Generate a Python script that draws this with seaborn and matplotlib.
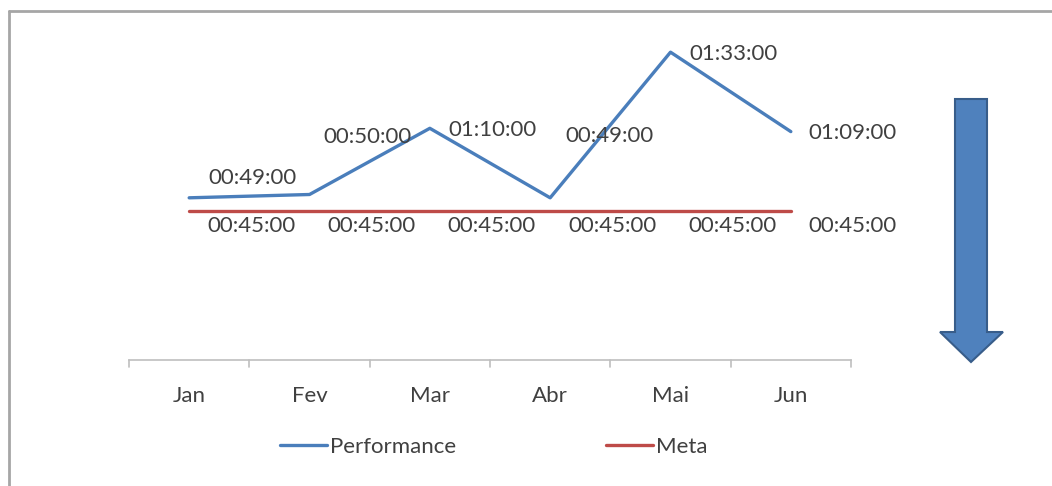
import matplotlib
matplotlib.use("Agg")
import matplotlib.pyplot as plt
from matplotlib.patches import Polygon
from matplotlib.lines import Line2D
import seaborn as sns
import pandas as pd

# Monthly durations, in minutes
months = ["Jan", "Fev", "Mar", "Abr", "Mai", "Jun"]
performance = [49, 50, 70, 49, 93, 69]
meta = [45, 45, 45, 45, 45, 45]


def hms(minutes):
    h, m = divmod(int(minutes), 60)
    return f"{h:02d}:{m:02d}:00"


sns.set_theme(style="white")
plt.rcParams["font.family"] = ["Lato", "DejaVu Sans"]

W, H = 1052, 486
fig = plt.figure(figsize=(W / 100, H / 100), dpi=100)
fig.patch.set_facecolor("white")


def fx(px):
    return px / W


def fy(py):
    return 1 - py / H


ax = fig.add_axes([fx(129), fy(360), fx(851) - fx(129), fy(29) - fy(360)])

blue = "#4A7EBB"
red = "#BE4B48"
text_c = "#404040"
fs = 16

df = pd.DataFrame({
    "Mês": months * 2,
    "Minutos": performance + meta,
    "Série": ["Performance"] * len(months) + ["Meta"] * len(months),
})

sns.lineplot(data=df, x="Mês", y="Minutos", hue="Série",
             palette={"Performance": blue, "Meta": red},
             sort=False, linewidth=2.4, legend=False, ax=ax)

ax.set_xlim(-0.5, len(months) - 0.5)
ax.set_ylim(0, 100)
ax.set_xlabel("")
ax.set_ylabel("")
ax.set_yticks([])
ax.set_xticks(range(len(months)))
ax.set_xticklabels(months, fontsize=fs, color=text_c)
ax.tick_params(axis="x", length=0, pad=19)
for s in ["top", "right", "left"]:
    ax.spines[s].set_visible(False)
ax.spines["bottom"].set_color("#BFBFBF")
ax.spines["bottom"].set_linewidth(1.2)
# tick marks between categories
for b in [i - 0.5 for i in range(len(months) + 1)]:
    ax.plot([b, b], [0, -2.0], color="#BFBFBF", lw=1.2, clip_on=False)

# data labels (pixel offsets from each point)
perf_offsets = [(63, 20), (58, 58), (63, -2), (59, 62), (63, -2), (62, -1)]
for i, (v, off) in enumerate(zip(performance, perf_offsets)):
    ax.annotate(hms(v), (i, v), xytext=off, textcoords="offset pixels",
                ha="center", va="center", fontsize=fs, color=text_c)
for i, v in enumerate(meta):
    ax.annotate(hms(v), (i, v), xytext=(62, -15), textcoords="offset pixels",
                ha="center", va="center", fontsize=fs, color=text_c)

# legend
handles = [Line2D([], [], color=blue, lw=2.4), Line2D([], [], color=red, lw=2.4)]
leg = fig.legend(handles, ["Performance", "Meta"], loc="center",
                 bbox_to_anchor=(fx(494), fy(447)), ncol=2, frameon=False,
                 fontsize=fs, handlelength=2.1, handletextpad=0.15,
                 columnspacing=6.75, labelcolor=text_c)

# downward arrow on the right
arrow_pts = [(955, 99), (987, 99), (987, 332), (1003, 332), (971, 362),
             (940, 332), (955, 332)]
fig.patches.append(Polygon([(fx(x), fy(y)) for x, y in arrow_pts], closed=True,
                           transform=fig.transFigure, facecolor="#4F81BD",
                           edgecolor="#385D8A", linewidth=1.5, zorder=5))

# chart frame
fig.add_artist(Line2D([fx(9), 1], [fy(11), fy(11)], transform=fig.transFigure,
                      color="#A6A6A6", lw=2))
fig.add_artist(Line2D([fx(9), fx(9)], [fy(11), 0], transform=fig.transFigure,
                      color="#A6A6A6", lw=2))

fig.savefig("out.png", dpi=100)
